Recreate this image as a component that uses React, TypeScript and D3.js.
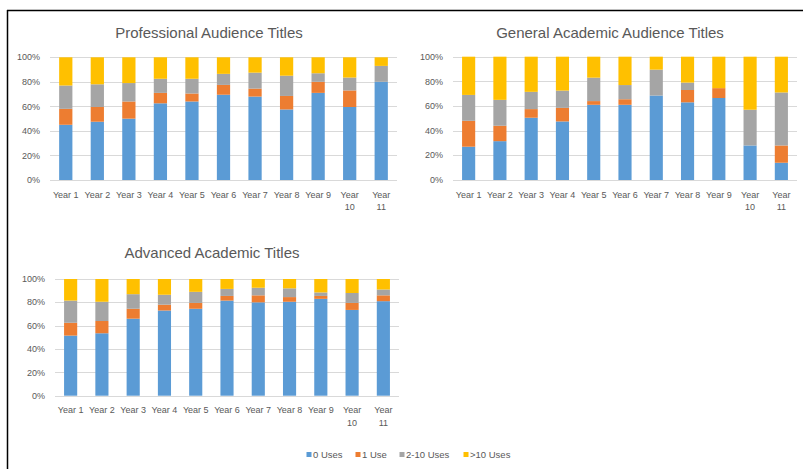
import React, { useRef, useEffect } from 'react';
import * as d3 from 'd3';

const years = ['Year 1', 'Year 2', 'Year 3', 'Year 4', 'Year 5', 'Year 6', 'Year 7', 'Year 8', 'Year 9', 'Year 10', 'Year 11'];
const seriesNames = ['0 Uses', '1 Use', '2-10 Uses', '>10 Uses'];
const yTicks = [0, 0.2, 0.4, 0.6, 0.8, 1];

// Professional Audience Titles (% per use bucket)
const prof0 = [45, 47.5, 50, 62.5, 64, 69.5, 68, 57.5, 71, 59.5, 80];
const prof1 = [13, 12, 14, 8.5, 6.5, 8, 6.5, 11, 9, 13.5, 0];
const prof2to10 = [19, 18.5, 15, 11.5, 12, 9, 13, 16.5, 7, 10.5, 13];
const profOver10 = [23, 22, 21, 17.5, 17.5, 13.5, 12.5, 15, 13, 16.5, 7];

// General Academic Audience Titles
const gen0 = [27, 31.5, 50.5, 47.5, 61, 61, 68.5, 63, 66.5, 28, 14];
const gen1 = [21, 12.5, 7, 11, 3, 4.5, 0, 10, 8, 0, 14];
const gen2to10 = [21, 21, 14, 14, 19, 11.5, 21, 6, 0, 29, 43];
const genOver10 = [31, 35, 28.5, 27.5, 17, 23, 10.5, 21, 25.5, 43, 29];

// Advanced Academic Titles
const adv0 = [51.5, 53.5, 66, 73, 74.5, 81.5, 80, 80.5, 83, 73.5, 81];
const adv1 = [11, 10.5, 8.5, 5, 5, 4, 6, 4, 2.5, 6, 5];
const adv2to10 = [19, 16.5, 12.5, 8.5, 9.5, 6, 6.5, 7.5, 3, 8.5, 5];
const advOver10 = [18.5, 19.5, 13, 13.5, 11, 8.5, 7.5, 8, 11.5, 12, 9];

const colors = ['#5b9bd5', '#ed7d31', '#a5a5a5', '#ffc000'];
const textColor = '#595959';
const gridColor = '#d9d9d9';
const font = '"Liberation Sans", Arial, sans-serif';

// chart placement in the 803x469 frame
const panels = [
  { title: 'Professional Audience Titles', titleX: 209, titleY: 38, series: [prof0, prof1, prof2to10, profOver10], x0: 50, x1: 397, yTop: 57.3, yBottom: 180 },
  { title: 'General Academic Audience Titles', titleX: 610, titleY: 38, series: [gen0, gen1, gen2to10, genOver10], x0: 453, x1: 797, yTop: 56.7, yBottom: 180 },
  { title: 'Advanced Academic Titles', titleX: 212, titleY: 258, series: [adv0, adv1, adv2to10, advOver10], x0: 55, x1: 399, yTop: 279, yBottom: 395.7 },
];

const App = () => {
  const svgRef = useRef(null);

  useEffect(() => {
    const svg = d3.select(svgRef.current);
    svg.selectAll('*').remove();

    // frame lines (left and top)
    svg.append('line').attr('x1', 7.5).attr('x2', 7.5).attr('y1', 10).attr('y2', 469).attr('stroke', '#000').attr('stroke-width', 1.5);
    svg.append('line').attr('x1', 7).attr('x2', 803).attr('y1', 10.5).attr('y2', 10.5).attr('stroke', '#000').attr('stroke-width', 1.5);

    panels.forEach(p => {
      const g = svg.append('g');

      const rows = years.map((yr, i) => {
        const row: any = { year: yr };
        seriesNames.forEach((s, k) => { row[s] = p.series[k][i]; });
        return row;
      });

      const stacked = d3.stack().keys(seriesNames).offset(d3.stackOffsetExpand)(rows);

      const x = d3.scaleBand().domain(years).range([p.x0, p.x1]).padding(0);
      const y = d3.scaleLinear().domain([0, 1]).range([p.yBottom, p.yTop]);
      const barW = x.bandwidth() * 0.42;

      // gridlines
      g.selectAll('.grid')
        .data(yTicks)
        .enter()
        .append('line')
        .attr('x1', p.x0)
        .attr('x2', p.x1)
        .attr('y1', d => Math.round(y(d)) + 0.5)
        .attr('y2', d => Math.round(y(d)) + 0.5)
        .attr('stroke', gridColor)
        .attr('stroke-width', 1);

      // y labels
      g.selectAll('.ylab')
        .data(yTicks)
        .enter()
        .append('text')
        .attr('x', p.x0 - 10)
        .attr('y', d => y(d))
        .attr('dy', '0.35em')
        .attr('text-anchor', 'end')
        .attr('font-size', 9)
        .attr('font-family', font)
        .attr('fill', textColor)
        .text(d => d3.format('.0%')(d));

      // bars
      stacked.forEach((layer, k) => {
        g.selectAll('.bar' + k)
          .data(layer)
          .enter()
          .append('rect')
          .attr('x', d => x(d.data.year) + (x.bandwidth() - barW) / 2)
          .attr('y', d => y(d[1]))
          .attr('width', barW)
          .attr('height', d => Math.max(0, y(d[0]) - y(d[1])))
          .attr('fill', colors[k]);
      });

      // category labels, wrap the long ones
      years.forEach(yr => {
        const cx = x(yr) + x.bandwidth() / 2;
        const parts = yr.length > 6 ? yr.split(' ') : [yr];
        parts.forEach((t, j) => {
          g.append('text')
            .attr('x', cx)
            .attr('y', p.yBottom + 14.5 + j * 12.5)
            .attr('dy', '0.35em')
            .attr('text-anchor', 'middle')
            .attr('font-size', 9)
            .attr('font-family', font)
            .attr('fill', textColor)
            .text(t);
        });
      });

      // title
      g.append('text')
        .attr('x', p.titleX)
        .attr('y', p.titleY)
        .attr('text-anchor', 'middle')
        .attr('font-size', 15)
        .attr('font-family', font)
        .attr('fill', textColor)
        .text(p.title);
    });

    // legend
    const legendX = [306.5, 355.5, 399.5, 463.5];
    const legend = svg.append('g');
    seriesNames.forEach((s, k) => {
      legend.append('rect')
        .attr('x', legendX[k])
        .attr('y', 452)
        .attr('width', 5)
        .attr('height', 5)
        .attr('fill', colors[k]);
      legend.append('text')
        .attr('x', legendX[k] + 6.5)
        .attr('y', 454.5)
        .attr('dy', '0.35em')
        .attr('font-size', 9.5)
        .attr('font-family', font)
        .attr('fill', textColor)
        .text(s);
    });
  }, []);

  return (
    <svg ref={svgRef} width={803} height={469} style={{ position: 'absolute', left: 0, top: 0, background: '#fff' }}></svg>
  );
};

export default App;
